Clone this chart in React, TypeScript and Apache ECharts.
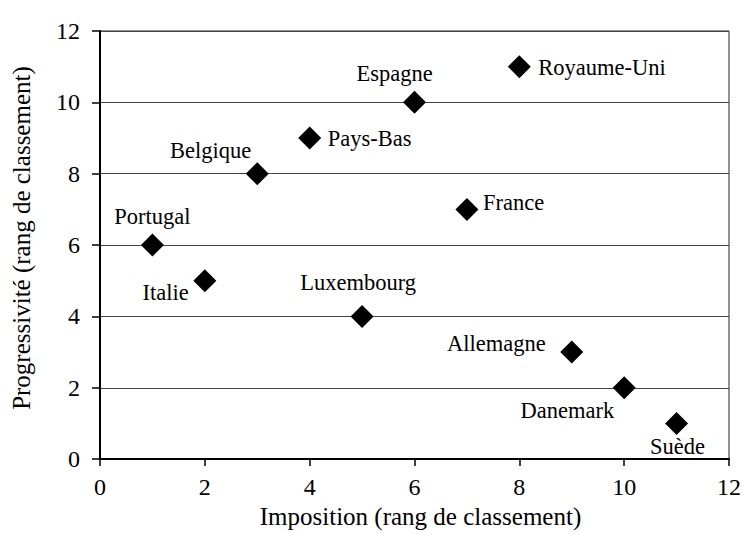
import React, { useEffect, useRef } from "react";
import * as echarts from "echarts";

const countries = ["Portugal", "Italie", "Belgique", "Pays-Bas", "Luxembourg", "Espagne", "France", "Royaume-Uni", "Allemagne", "Danemark", "Suède"];
const impositionRank = [1, 2, 3, 4, 5, 6, 7, 8, 9, 10, 11];
const progressiviteRank = [6, 5, 8, 9, 4, 10, 7, 11, 3, 2, 1];
const axisTicks = [0, 2, 4, 6, 8, 10, 12];

// label placement (style only)
const labelAlign = ["center", "right", "right", "left", "center", "center", "left", "left", "right", "right", "center"];
const labelOffset: number[][] = [
  [0, -29], [-16, 12], [-6, -23], [18, 0], [-4, -34], [-20, -29], [16, -7], [19, 1], [-26, -9], [-10, 23], [1, 23],
];

const FONT = "Liberation Serif, Times New Roman, serif";

export default function App() {
  const ref = useRef<HTMLDivElement>(null);
  useEffect(() => {
    if (!ref.current) return;
    const chart = echarts.init(ref.current, null, { renderer: "svg" });
    const data = countries.map((c, i) => ({
      name: c,
      value: [impositionRank[i], progressiviteRank[i]],
      label: {
        show: true,
        position: "inside",
        align: labelAlign[i],
        verticalAlign: "middle",
        offset: labelOffset[i],
        formatter: c,
        color: "#000",
        fontFamily: FONT,
        fontSize: 22.5,
      },
    }));
    chart.setOption({
      animation: false,
      backgroundColor: "#fff",
      textStyle: { fontFamily: FONT },
      grid: {
        left: 100,
        right: 11,
        top: 31,
        bottom: 73,
        show: true,
        borderColor: "#222",
        borderWidth: 1,
      },
      xAxis: {
        type: "value",
        min: axisTicks[0],
        max: axisTicks[axisTicks.length - 1],
        interval: 2,
        name: "Imposition (rang de classement)",
        nameLocation: "middle",
        nameGap: 43,
        nameTextStyle: { fontFamily: FONT, fontSize: 25, color: "#000", padding: [0, 0, 0, 12] },
        axisLine: { show: true, onZero: false, lineStyle: { color: "#000", width: 2 } },
        axisTick: { show: true, inside: false, length: 7, lineStyle: { color: "#000", width: 1.5 } },
        axisLabel: { fontFamily: FONT, fontSize: 24, color: "#000", margin: 16 },
        splitLine: { show: false },
      },
      yAxis: {
        type: "value",
        min: axisTicks[0],
        max: axisTicks[axisTicks.length - 1],
        interval: 2,
        name: "Progressivité (rang de classement)",
        nameLocation: "middle",
        nameGap: 66,
        nameTextStyle: { fontFamily: FONT, fontSize: 25, color: "#000", padding: [0, 0, 0, 14] },
        axisLine: { show: true, onZero: false, lineStyle: { color: "#000", width: 2 } },
        axisTick: { show: true, inside: false, length: 8, lineStyle: { color: "#000", width: 1.5 } },
        axisLabel: { fontFamily: FONT, fontSize: 24, color: "#000", margin: 20 },
        splitLine: { show: true, lineStyle: { color: "#444", width: 1.2 } },
      },
      series: [
        {
          type: "scatter",
          symbol: "diamond",
          symbolSize: 23,
          itemStyle: { color: "#000", opacity: 1 },
          data,
        },
      ],
    });
    return () => chart.dispose();
  }, []);
  return <div ref={ref} style={{ width: 744, height: 534, position: "absolute", left: 0, top: 0 }} />;
}
